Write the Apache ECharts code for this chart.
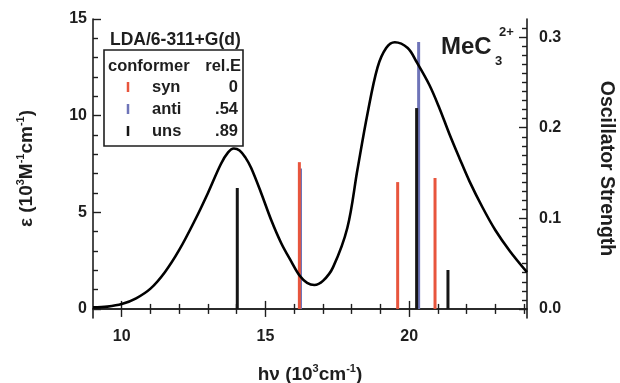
<!DOCTYPE html>
<html>
<head>
<meta charset="utf-8">
<script src="https://cdn.jsdelivr.net/npm/echarts@6/dist/echarts.min.js"></script>
<style>
  html, body { margin: 0; background: #fff; }
  #chart { width: 620px; height: 383px; }
</style>
</head>
<body>
<div id="chart"></div>
<script>
// absorption envelope: hv (10^3 cm^-1) and epsilon (10^3 M^-1 cm^-1)
const waveNumber = [9.0, 9.5, 10.0, 10.5, 11.0, 11.5, 12.0, 12.55, 13.0, 13.45, 13.7, 13.9, 14.1, 14.3,
  14.5, 14.85, 15.2, 15.55, 15.9, 16.2, 16.45, 16.7, 17.0, 17.35, 17.85, 18.2, 18.55, 18.9, 19.2,
  19.5, 19.95, 20.25, 20.7, 21.05, 21.4, 21.75, 22.1, 22.55, 23.0, 23.5, 24.1];
const epsilon = [0.08, 0.12, 0.25, 0.55, 1.05, 1.9, 3.05, 4.6, 6.0, 7.5, 8.1, 8.3, 8.2, 7.84,
  7.3, 6.0, 4.6, 3.4, 2.45, 1.7, 1.35, 1.24, 1.45, 2.15, 4.2, 7.2, 10.1, 12.5, 13.5,
  13.8, 13.5, 12.8, 11.6, 10.4, 9.05, 7.8, 6.6, 5.26, 4.07, 3.0, 1.9];

// computed transitions [hv, oscillator strength]
const synSticks = [[16.18, 0.162], [19.6, 0.14], [20.9, 0.1445]];
const antiSticks = [[16.22, 0.155], [20.33, 0.2945]];
const unsSticks = [[14.02, 0.1335], [20.26, 0.2217], [21.35, 0.043]];

const conformers = ['syn', 'anti', 'uns'];
const relEnergies = ['0', '.54', '.89'];
const conformerColors = ['#e8553d', '#6e74b8', '#151515'];

const xMajorTicks = [10, 15, 20];
const xMinorTicks = [11, 12, 13, 14, 16, 17, 18, 19, 21, 22, 23, 24];
const epsMajorTicks = [0, 5, 10, 15];
const epsMinorTicks = [1, 2, 3, 4, 6, 7, 8, 9, 11, 12, 13, 14];
const fMajorTicks = [0, 0.1, 0.2, 0.3];
const fMinorTicks = [];
for (let i = 1; i < 32; i++) if (i % 10) fMinorTicks.push(i / 100);

const font = 'Liberation Sans';
const ink = '#1e1e1e';
const frameLine = { show: true, lineStyle: { color: ink, width: 1.6 } };
const bold = (size) => ({ fontFamily: font, fontWeight: 'bold', fontSize: size, color: ink });
const nameRich = {
  t: bold(19),
  s: { ...bold(11), padding: [0, 0, 13, 0] }
};

// one axis drawing either the major ticks (with frame line) or the minor ticks
function axis(pos, min, max, ticks, len, line, extra) {
  return Object.assign({
    type: 'value', position: pos, min: min, max: max,
    splitLine: { show: false },
    axisLine: line ? frameLine : { show: false },
    axisTick: { show: true, inside: true, length: len, customValues: ticks,
      lineStyle: { color: ink, width: 1.4 } },
    axisLabel: { show: false }
  }, extra || {});
}

const chart = echarts.init(document.getElementById('chart'));

chart.setOption({
  animation: false,
  backgroundColor: '#fff',
  grid: { left: 93, right: 93, top: 19, bottom: 65, outerBoundsMode: 'none' },
  xAxis: [
    axis('bottom', 9, 24.1, xMajorTicks, 8, true, {
      axisLabel: { show: true, customValues: xMajorTicks, margin: 11, ...bold(16) },
      name: '{t|h\u03bd (10}{s|3}{t|cm}{s|-1}{t|)}',
      nameLocation: 'middle', nameGap: 45,
      nameTextStyle: { rich: nameRich }
    }),
    axis('bottom', 9, 24.1, xMinorTicks, 5, false),
    axis('top', 9, 24.1, xMajorTicks, 8, true),
    axis('top', 9, 24.1, xMinorTicks, 5, false)
  ],
  yAxis: [
    axis('left', -0.47, 15, epsMajorTicks, 8, true, {
      axisLabel: { show: true, customValues: epsMajorTicks, margin: 6, ...bold(16) },
      name: '{t|\u03b5 (10}{s|3}{t|M}{s|-1}{t|cm}{s|-1}{t|)}',
      nameLocation: 'middle', nameRotate: 90, nameGap: 54,
      nameTextStyle: { rich: nameRich }
    }),
    axis('left', -0.47, 15, epsMinorTicks, 5, false),
    axis('right', -0.01, 0.32, fMajorTicks, 8, true, {
      axisLabel: { show: true, customValues: fMajorTicks, margin: 12, ...bold(16),
        formatter: (v) => v.toFixed(1) },
      name: 'Oscillator Strength',
      nameLocation: 'middle', nameRotate: -90, nameGap: 69,
      nameTextStyle: bold(19.5)
    }),
    axis('right', -0.01, 0.32, fMinorTicks, 5, false)
  ],
  series: [
    {
      type: 'line', xAxisIndex: 0, yAxisIndex: 0,
      data: waveNumber.map((x, i) => [x, epsilon[i]]),
      smooth: 0.35, showSymbol: false,
      lineStyle: { color: '#000', width: 2.6 }
    },
    { type: 'bar', name: 'anti', xAxisIndex: 0, yAxisIndex: 2, data: antiSticks,
      barWidth: 3, barGap: '-100%', itemStyle: { color: conformerColors[1] } },
    { type: 'bar', name: 'syn', xAxisIndex: 0, yAxisIndex: 2, data: synSticks,
      barWidth: 3, barGap: '-100%', itemStyle: { color: conformerColors[0] } },
    { type: 'bar', name: 'uns', xAxisIndex: 0, yAxisIndex: 2, data: unsSticks,
      barWidth: 3, barGap: '-100%', itemStyle: { color: conformerColors[2] } }
  ],
  graphic: [
    { type: 'text', left: 110, top: 31, style: { text: 'LDA/6-311+G(d)', ...bold(17.5), fill: ink } },
    { type: 'rect', shape: { x: 104, y: 50, width: 139, height: 96 },
      style: { fill: '#fff', stroke: ink, lineWidth: 1.6 } },
    { type: 'text', x: 108, y: 66, style: { text: 'conformer', ...bold(16.5), fill: ink, verticalAlign: 'middle' } },
    { type: 'text', x: 241, y: 66, style: { text: 'rel.E', ...bold(16.5), fill: ink, align: 'right', verticalAlign: 'middle' } },
    ...conformers.flatMap((c, i) => {
      const y = 87 + i * 22;
      return [
        { type: 'line', shape: { x1: 128, y1: y - 5, x2: 128, y2: y + 5 },
          style: { stroke: conformerColors[i], lineWidth: 2.5 } },
        { type: 'text', x: 152, y: y, style: { text: c, ...bold(16.5), fill: ink, verticalAlign: 'middle' } },
        { type: 'text', x: 238, y: y, style: { text: relEnergies[i], ...bold(16.5), fill: ink, align: 'right', verticalAlign: 'middle' } }
      ];
    }),
    { type: 'text', x: 441, y: 47, style: { text: 'MeC', ...bold(24), fill: ink, verticalAlign: 'middle' } },
    { type: 'text', x: 495, y: 61, style: { text: '3', ...bold(13), fill: ink, verticalAlign: 'middle' } },
    { type: 'text', x: 499, y: 32, style: { text: '2+', ...bold(13), fill: ink, verticalAlign: 'middle' } }
  ]
});
</script>
</body>
</html>
